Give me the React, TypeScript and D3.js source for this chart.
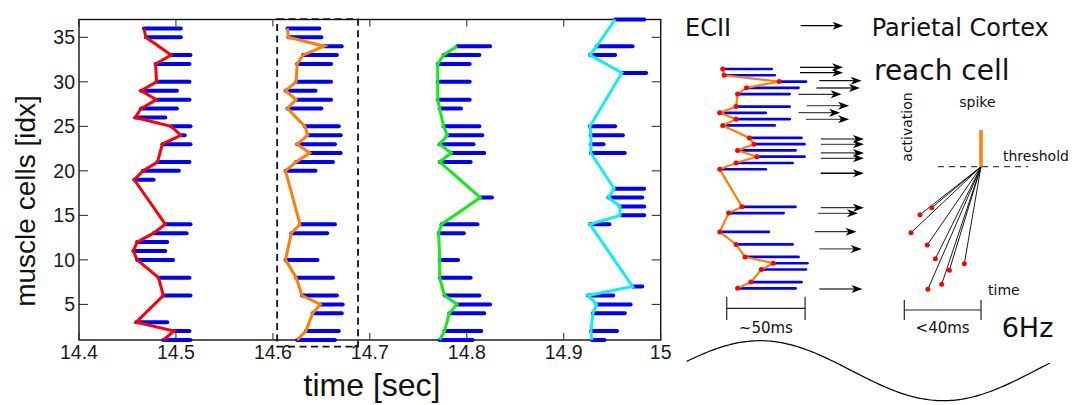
import React from 'react';
import * as d3 from 'd3';

// ---------- main raster: axes ----------
const xTicks = [14.4, 14.5, 14.6, 14.7, 14.8, 14.9, 15];
const xTickLabels = ['14.4', '14.5', '14.6', '14.7', '14.8', '14.9', '15'];
const yTicks = [5, 10, 15, 20, 25, 30, 35];

// ---------- group 1 (red) ----------
const redCells = [36, 35, 33, 32, 30, 29, 28, 27, 26, 25, 24, 23, 21, 20, 19, 14, 13, 12, 11, 10, 8, 6, 3, 2, 1];
const redStart = [14.467, 14.469, 14.495, 14.479, 14.480, 14.464, 14.480, 14.464, 14.458, 14.495, 14.505, 14.486, 14.481, 14.466, 14.457, 14.489, 14.477, 14.460, 14.456, 14.460, 14.482, 14.487, 14.459, 14.498, 14.487];
const redEnd = [14.505, 14.505, 14.515, 14.514, 14.514, 14.501, 14.514, 14.501, 14.489, 14.515, 14.509, 14.515, 14.514, 14.503, 14.477, 14.515, 14.511, 14.491, 14.489, 14.497, 14.514, 14.515, 14.491, 14.514, 14.515];

// ---------- group 2 (orange, boxed) ----------
const orangeCells = [36, 35, 34, 33, 32, 30, 29, 28, 27, 25, 24, 23, 22, 21, 20, 14, 13, 10, 8, 6, 5, 4, 2, 1];
const orangeStart = [14.615, 14.616, 14.653, 14.631, 14.625, 14.624, 14.613, 14.624, 14.615, 14.633, 14.636, 14.625, 14.638, 14.624, 14.613, 14.628, 14.619, 14.613, 14.624, 14.630, 14.649, 14.641, 14.634, 14.625];
const orangeEnd = [14.648, 14.650, 14.671, 14.666, 14.660, 14.660, 14.644, 14.660, 14.650, 14.668, 14.670, 14.664, 14.670, 14.662, 14.644, 14.664, 14.656, 14.646, 14.662, 14.666, 14.672, 14.671, 14.668, 14.664];

// ---------- group 3 (green) ----------
const greenCells = [34, 33, 32, 30, 28, 27, 25, 24, 23, 22, 21, 17, 14, 13, 10, 8, 6, 5, 4, 2, 1];
const greenStart = [14.790, 14.776, 14.770, 14.770, 14.770, 14.772, 14.776, 14.780, 14.772, 14.784, 14.772, 14.814, 14.774, 14.771, 14.772, 14.772, 14.777, 14.790, 14.782, 14.777, 14.772];
const greenEnd = [14.824, 14.813, 14.803, 14.803, 14.803, 14.794, 14.813, 14.816, 14.807, 14.818, 14.804, 14.826, 14.811, 14.797, 14.791, 14.804, 14.813, 14.824, 14.818, 14.815, 14.806];

// ---------- group 4 (cyan) ----------
const cyanCells = [37, 34, 33, 31, 25, 24, 23, 22, 18, 17, 16, 15, 14, 7, 6, 5, 4, 2, 1];
const cyanStart = [14.953, 14.934, 14.927, 14.960, 14.927, 14.928, 14.928, 14.928, 14.952, 14.946, 14.958, 14.958, 14.927, 14.971, 14.925, 14.934, 14.930, 14.928, 14.929];
const cyanEnd = [14.983, 14.971, 14.953, 14.985, 14.953, 14.961, 14.941, 14.963, 14.983, 14.981, 14.983, 14.983, 14.947, 14.981, 14.951, 14.969, 14.963, 14.955, 14.942];

// dashed highlight box (time, cell index)
const boxTime = [14.6044, 14.6878];
const boxCells = [0.25, 37.05];

// ---------- schematic: arrows from cells to reach cell (mini row, time) ----------
const arrowRow = [36.27, 35.41, 34.13, 32.97, 31.96, 30.14, 29.03, 27.97, 24.83, 23.98, 22.6, 21.75, 19.36, 13.87, 12.97, 10.04, 7.28, 0.89];
const arrowStart = [14.667, 14.667, 14.680, 14.678, 14.666, 14.6715, 14.666, 14.671, 14.681, 14.681, 14.681, 14.681, 14.681, 14.681, 14.679, 14.677, 14.680, 14.680];
const arrowEnd = [14.696, 14.696, 14.7085, 14.7073, 14.695, 14.700, 14.694, 14.700, 14.710, 14.710, 14.710, 14.710, 14.710, 14.710, 14.706, 14.705, 14.7085, 14.709];
const arrowShade = ['#000', '#000', '#111', '#333', '#333', '#555', '#444', '#555', '#555', '#555', '#333', '#444', '#000', '#333', '#555', '#333', '#555', '#444'];

// mini scale bar (~50ms)
const miniBarTime = [14.6177, 14.6704];

// ---------- schematic: activation panel (ms before spike, activation level) ----------
const actDotMs = [-25.7, -31.8, -36.5, -28.0, -23.8, -16.5, -8.7, -20.5, -27.7];
const actDotLevel = [0.692, 0.64, 0.505, 0.413, 0.31, 0.223, 0.272, 0.118, 0.08];
const spikeTop = 1.275;
const thresholdMs = [-22.4, 24.5];
const actBarMs = [-40, 0];

// 6 Hz theta wave (ms window relative to its peak)
const waveFreqHz = 6;
const waveMs = [-33.3, 132.6];

export default function App() {
  const L = 79, R = 660.7, T = 19.5, B = 340;
  const x = d3.scaleLinear().domain([14.4, 15]).range([L, R]);
  const y = d3.scaleLinear().domain([1, 37]).range([B, T]);

  const groups = [
    { cells: redCells, start: redStart, end: redEnd, color: '#ff0000' },
    { cells: orangeCells, start: orangeStart, end: orangeEnd, color: '#ff8000' },
    { cells: greenCells, start: greenStart, end: greenEnd, color: '#11ee11' },
    { cells: cyanCells, start: cyanStart, end: cyanEnd, color: '#11eeee' },
  ];

  const line = d3.line<[number, number]>().x(d => d[0]).y(d => d[1]);

  // mini raster scales
  const mx = d3.scaleLinear().domain([14.615, 14.665]).range([722.7, 797.05]);
  const my = d3.scaleLinear().domain([36, 1]).range([69, 288.3]);

  // activation panel scales
  const ax = d3.scaleLinear().domain([-40, 0]).range([904.3, 981]);
  const ay = d3.scaleLinear().domain([0, 1]).range([300, 166.7]);

  // wave scale
  const wx = d3.scaleLinear().domain([0, 100]).range([760, 980]);
  const wy = d3.scaleLinear().domain([-1, 1]).range([400.7, 340.7]);
  const wavePts: [number, number][] = d3.range(waveMs[0], waveMs[1] + 0.01, 1).map(t => [wx(t), wy(Math.cos(2 * Math.PI * waveFreqHz * t / 1000))]);

  const mainFont = '"Liberation Sans", Arial, sans-serif';
  const dv = '"DejaVu Sans", sans-serif';

  return (
    <svg width={1072} height={405} style={{ position: 'absolute', left: 0, top: 0, background: '#fff' }}>
      <rect x={0} y={0} width={1072} height={405} fill="#fff" />
      {/* frame */}
      <rect x={L} y={T} width={R - L} height={B - T} fill="none" stroke="#111" strokeWidth={1.4} />
      {xTicks.map(t => (
        <g key={'xt' + t}>
          <line x1={x(t)} x2={x(t)} y1={B} y2={B - 7} stroke="#222" strokeWidth={1} />
          <line x1={x(t)} x2={x(t)} y1={T} y2={T + 7} stroke="#222" strokeWidth={1} />
        </g>
      ))}
      {yTicks.map(v => (
        <g key={'yt' + v}>
          <line x1={L} x2={L + 9} y1={y(v)} y2={y(v)} stroke="#222" strokeWidth={1} />
          <line x1={R} x2={R - 9} y1={y(v)} y2={y(v)} stroke="#222" strokeWidth={1} />
        </g>
      ))}
      {xTicks.map((t, i) => (
        <text key={'xl' + t} x={x(t)} y={358.5} textAnchor="middle" fontFamily={mainFont} fontSize={19.5} fill="#1a1a1a">{xTickLabels[i]}</text>
      ))}
      {yTicks.map(v => (
        <text key={'yl' + v} x={75} y={y(v)} dy="0.36em" textAnchor="end" fontFamily={mainFont} fontSize={19.5} fill="#1a1a1a">{v}</text>
      ))}
      <text x={372} y={396} textAnchor="middle" fontFamily={mainFont} fontSize={32} fill="#111">time [sec]</text>
      <text transform={`translate(35,201) rotate(-90)`} textAnchor="middle" fontFamily={mainFont} fontSize={28} fill="#111">muscle cells [idx]</text>

      {/* bars */}
      {groups.map((g, gi) => (
        <g key={'g' + gi}>
          {g.cells.map((c, i) => (
            <line key={i} x1={x(g.start[i])} x2={x(g.end[i])} y1={y(c)} y2={y(c)} stroke="#0000ff" strokeWidth={4} strokeLinecap="round" />
          ))}
        </g>
      ))}
      {groups.map((g, gi) => (
        <path key={'l' + gi} d={line(g.cells.map((c, i) => [x(g.start[i]), y(c)]) as [number, number][]) || ''} fill="none" stroke={g.color} strokeWidth={3} strokeLinejoin="miter" strokeMiterlimit={4} />
      ))}
      <rect x={x(boxTime[0])} y={y(boxCells[1])} width={x(boxTime[1]) - x(boxTime[0])} height={y(boxCells[0]) - y(boxCells[1])} fill="none" stroke="#111" strokeWidth={1.8} strokeDasharray="7,4.5" />

      {/* ---------- right schematic ---------- */}
      <text x={685} y={36} fontFamily={dv} fontSize={24} fill="#111">ECII</text>
      <line x1={800.7} x2={836} y1={25.7} y2={25.7} stroke="#000" strokeWidth={1.2} />
      <path d={`M843.3,25.7 L832.5,21.7 L835.5,25.7 L832.5,29.7 Z`} fill="#000" />
      <text x={871.7} y={36} fontFamily={dv} fontSize={24} fill="#111">Parietal Cortex</text>
      <text x={874} y={80} fontFamily={dv} fontSize={28} fill="#111">reach cell</text>

      {/* mini raster */}
      {orangeCells.map((c, i) => (
        <line key={'mb' + i} x1={mx(orangeStart[i])} x2={mx(orangeEnd[i])} y1={my(c)} y2={my(c)} stroke="#0000ff" strokeWidth={2.7} strokeLinecap="round" />
      ))}
      <path d={line(orangeCells.map((c, i) => [mx(orangeStart[i]), my(c)]) as [number, number][]) || ''} fill="none" stroke="#ff8000" strokeWidth={2.2} />
      {orangeCells.map((c, i) => (
        <circle key={'md' + i} cx={mx(orangeStart[i])} cy={my(c)} r={2.5} fill="#ff0000" />
      ))}
      {arrowRow.map((r, i) => {
        const yy = my(r), x0 = mx(arrowStart[i]), x1 = mx(arrowEnd[i]);
        return (
          <g key={'ar' + i}>
            <line x1={x0} x2={x1 - 7} y1={yy} y2={yy} stroke={arrowShade[i]} strokeWidth={1.3} />
            <path d={`M${x1},${yy} L${x1 - 11},${yy - 4} L${x1 - 8},${yy} L${x1 - 11},${yy + 4} Z`} fill="#000" />
          </g>
        );
      })}
      {/* ~50ms bar */}
      <line x1={mx(miniBarTime[0])} x2={mx(miniBarTime[1])} y1={308.3} y2={308.3} stroke="#222" strokeWidth={1.2} />
      <line x1={mx(miniBarTime[0])} x2={mx(miniBarTime[0])} y1={296.7} y2={320} stroke="#222" strokeWidth={1.2} />
      <line x1={mx(miniBarTime[1])} x2={mx(miniBarTime[1])} y1={296.7} y2={320} stroke="#222" strokeWidth={1.2} />
      <text x={(mx(miniBarTime[0]) + mx(miniBarTime[1])) / 2} y={333} textAnchor="middle" fontFamily={dv} fontSize={15} fill="#111">~50ms</text>

      {/* activation panel */}
      <text transform={`translate(912,127) rotate(-90)`} textAnchor="middle" fontFamily={dv} fontSize={14} fill="#111">activation</text>
      <text x={959.3} y={107} fontFamily={dv} fontSize={14} fill="#111">spike</text>
      <text x={1003} y={160.5} fontFamily={dv} fontSize={14} fill="#111">threshold</text>
      <line x1={ax(thresholdMs[0])} x2={ax(thresholdMs[1])} y1={ay(1)} y2={ay(1)} stroke="#111" strokeWidth={1} strokeDasharray="6,5" />
      {actDotMs.map((m, i) => (
        <line key={'fl' + i} x1={ax(0)} y1={ay(1)} x2={ax(m)} y2={ay(actDotLevel[i])} stroke="#000" strokeWidth={0.9} />
      ))}
      {actDotMs.map((m, i) => (
        <circle key={'fd' + i} cx={ax(m)} cy={ay(actDotLevel[i])} r={2.5} fill="#ff0000" />
      ))}
      <line x1={ax(0)} x2={ax(0)} y1={ay(1)} y2={ay(spikeTop)} stroke="#ff8000" strokeWidth={3.5} />
      <text x={988} y={295} fontFamily={dv} fontSize={14} fill="#111">time</text>
      <line x1={ax(actBarMs[0])} x2={ax(actBarMs[1])} y1={310} y2={310} stroke="#222" strokeWidth={1.2} />
      <line x1={ax(actBarMs[0])} x2={ax(actBarMs[0])} y1={300} y2={320} stroke="#222" strokeWidth={1.2} />
      <line x1={ax(actBarMs[1])} x2={ax(actBarMs[1])} y1={300} y2={320} stroke="#222" strokeWidth={1.2} />
      <text x={(ax(actBarMs[0]) + ax(actBarMs[1])) / 2} y={333} textAnchor="middle" fontFamily={dv} fontSize={15} fill="#111">&lt;40ms</text>
      <text x={1001.7} y={337} fontFamily={dv} fontSize={27} fill="#111">6Hz</text>

      {/* theta wave */}
      <path d={line(wavePts) || ''} fill="none" stroke="#000" strokeWidth={1.2} />
    </svg>
  );
}
